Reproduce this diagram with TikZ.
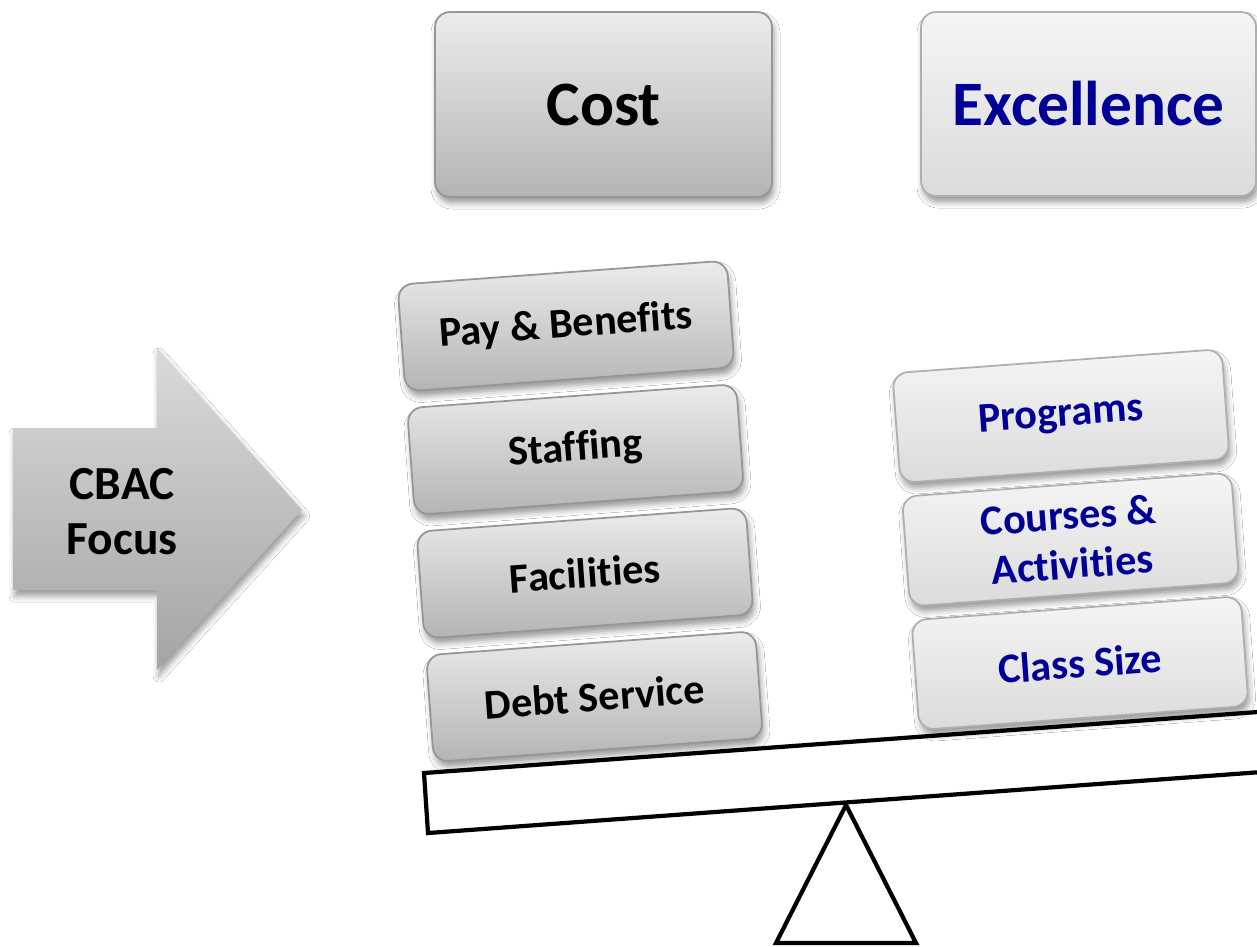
\documentclass[tikz,border=0pt]{standalone}
\usepackage{fontspec}
\setmainfont[Ligatures=NoCommon]{Carlito}
\usepackage{tikz}
\usetikzlibrary{shadows.blur}
\tikzstyle{board} = [y = -1cm, every node/.style={transform shape}]
\definecolor{costTop}{RGB}{236,236,236}
\definecolor{costBottom}{RGB}{180,180,180}
\definecolor{costBorder}{RGB}{150,150,150}
\definecolor{excelTop}{RGB}{245,245,245}
\definecolor{excelBottom}{RGB}{219,219,219}
\definecolor{excelBorder}{RGB}{175,175,175}
\definecolor{excelBlue}{RGB}{0,0,150}
\definecolor{arrowTop}{RGB}{218,218,218}
\definecolor{arrowBottom}{RGB}{164,164,164}
\tikzstyle{boxShadow} = [blur shadow={shadow xshift=.02cm, shadow yshift=-.06cm, shadow blur radius=.06cm, shadow opacity=40}]
\tikzstyle{headStyle} = [rounded corners = .15cm, boxShadow, line width=.5pt, font=\fontsize{18}{22}\selectfont\bfseries]
\tikzstyle{costHead} = [headStyle, top color=costTop, bottom color=costBottom, draw=costBorder, text=black, minimum width=3.37cm, minimum height=1.85cm]
\tikzstyle{excelHead} = [headStyle, top color=excelTop, bottom color=excelBottom, draw=excelBorder, text=excelBlue, minimum width=3.35cm, minimum height=1.84cm]
\tikzstyle{blockStyle} = [rounded corners = .15cm, boxShadow, line width=.5pt, rotate=4.2, align=center, minimum width=3.3cm, font=\fontsize{12}{14}\selectfont\bfseries]
\tikzstyle{costBlockStyle} = [blockStyle, top color=costTop, bottom color=costBottom, draw=costBorder, text=black, minimum height=1.07cm]
\tikzstyle{excelBlockStyle} = [blockStyle, top color=excelTop, bottom color=excelBottom, draw=excelBorder, text=excelBlue, minimum height=1.1cm]
\tikzstyle{beamLine} = [color=black, line width=1.2pt, fill=white, line join=miter]
\tikzstyle{focusText} = [align=center, font=\fontsize{13.5}{15.6}\selectfont\bfseries]
\newcommand{\blockRise}{1.235}
\newcommand{\blockLean}{.095}
\newcommand{\costBlock}[3]{\node [costBlockStyle] (#1) at (5.66 + \blockLean * #2 - \blockLean, 3.26 + \blockRise * #2 - \blockRise) {#3};}
\newcommand{\excelBlock}[3]{\node [excelBlockStyle] (#1) at (10.61 + \blockLean * #2 - \blockLean, 4.16 + \blockRise * #2 - \blockRise) {#3};}

\begin{document}
\begin{tikzpicture}[board]
          \fill [white] (0,0) rectangle (12.57,9.46);
          \useasboundingbox (0,0) rectangle (12.57,9.46);

          % headings
          \node [costHead] (cost) at (6.035, 1.045) {Cost};
          \node [excelHead] (excellence) at (10.885, 1.04) {Excellence};

          % arrow
          \shade [top color=arrowTop, bottom color=arrowBottom, boxShadow]
            (0.13,4.28) -- (1.57,4.28) -- (1.57,3.48) -- (3.02,5.10)
            -- (1.57,6.70) -- (1.57,5.90) -- (0.13,5.90) -- cycle;
          \node [focusText] (focus) at (1.22, 5.12) {CBAC\\Focus};

          % seesaw
          \draw [beamLine] (8.46,8.05) -- (7.76,9.43) -- (9.16,9.43) -- cycle;
          \draw [beamLine] (4.24,7.73) -- (13.0,7.089) -- (13.0,7.692) -- (4.28,8.33) -- cycle;

          \costBlock{pay}{1}{Pay \& Benefits}
          \costBlock{staffing}{2}{Staffing}
          \costBlock{facilities}{3}{Facilities}
          \costBlock{debt}{4}{Debt Service}

          \excelBlock{programs}{1}{Programs}
          \excelBlock{courses}{2}{Courses \&\\Activities}
          \excelBlock{classSize}{3}{Class Size}
        \end{tikzpicture}
\end{document}
